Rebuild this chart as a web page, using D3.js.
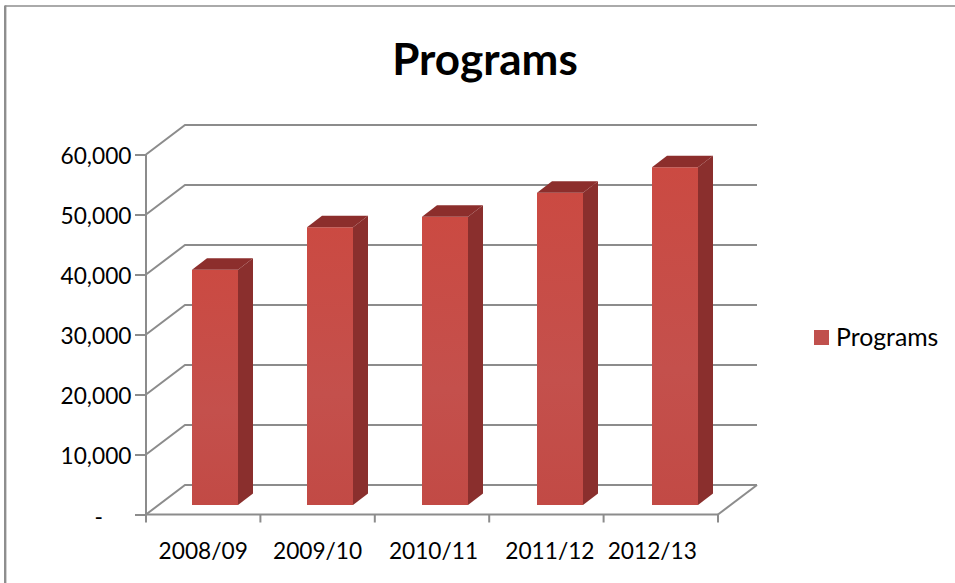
<!DOCTYPE html>
<html>
<head>
<meta charset="utf-8">
<script src="https://cdn.jsdelivr.net/npm/d3@7"></script>
<style>
html,body{margin:0;padding:0;background:#fff}
text{font-family:Lato,"Open Sans",sans-serif;fill:#000}
</style>
</head>
<body>
<svg id="c" width="955" height="583"></svg>
<script>
const categories = ["2008/09","2009/10","2010/11","2011/12","2012/13"];
const programs = [39200,46300,48050,52050,56300];
const yTicks = [0,10000,20000,30000,40000,50000,60000];
const seriesName = "Programs";
const chartTitle = "Programs";

const W=955,H=583;
const svg=d3.select("#c");
const grey="#8c8c8c";
const frontColor="#c0504d",sideColor="#8a2f2d",topColor="#8c2e2c";

const defs=svg.append("defs");
const grad=defs.append("linearGradient").attr("id","front").attr("x1",0).attr("x2",0).attr("y1",0).attr("y2",1);
grad.append("stop").attr("offset","0%").attr("stop-color","#cb4a42");
grad.append("stop").attr("offset","60%").attr("stop-color","#c4504c");
grad.append("stop").attr("offset","100%").attr("stop-color","#c24a45");

// chart frame: only top and left edges fall inside the picture
svg.append("line").attr("x1",5).attr("x2",W).attr("y1",6).attr("y2",6).attr("stroke","#8e8e8e").attr("stroke-width",1.4);
svg.append("line").attr("x1",5.2).attr("x2",5.2).attr("y1",5.5).attr("y2",H).attr("stroke","#8e8e8e").attr("stroke-width",2.4);

const x=d3.scaleBand().domain(categories).range([146,718]);
const xBars=d3.scaleBand().domain(categories).range([146,721]);
const y=d3.scaleLinear().domain([0,60000]).range([514.5,154.5]);
const backX=39,backY=-29.5;
const xEnd=718;

const grid=svg.append("g").attr("fill","none").attr("stroke",grey).attr("stroke-width",2);
yTicks.forEach(t=>{
  const py=y(t);
  grid.append("path").attr("d",d3.line()([[146,py],[146+backX,py+backY],[xEnd+backX,py+backY]]));
});
grid.append("path").attr("d",d3.line()([[xEnd,y(0)],[xEnd+backX,y(0)+backY]]));

// axes
const axY=d3.axisLeft(y).tickValues(yTicks).tickSize(11).tickPadding(3.5)
  .tickFormat(d=>d===0?"-":d3.format(",")(d));
const gy=svg.append("g").attr("transform","translate(146,0)").call(axY);
const axX=d3.axisBottom(x).tickValues([]).tickSize(0);
const gx=svg.append("g").attr("transform",`translate(0,${y(0)})`).call(axX);
const bt=[0,1,2,3,4,5].map(i=>146+i*x.step());
gx.selectAll("line.bt").data(bt).join("line").attr("class","bt")
  .attr("x1",d=>d).attr("x2",d=>d).attr("y1",0).attr("y2",8);
[gy,gx].forEach(g=>{
  g.selectAll("path,line").attr("stroke",grey).attr("stroke-width",2);
  g.select(".domain").attr("d",g===gy?`M0,${y(60000)}V${y(0)}`:`M146,0H718`);
});
gy.selectAll("text").attr("font-size",22.7).attr("fill","#000").style("font-family","Lato");
gy.selectAll(".tick text").attr("dy","0.4em");
gy.selectAll(".tick").filter(d=>d===0).select("text").attr("x",-43).attr("dy","0.42em");
const labelNudge=[0,0,1.5,3.5,-8.5];
gx.selectAll("text.lab").data(categories).join("text").attr("class","lab")
  .attr("x",(d,i)=>x(d)+x.bandwidth()/2+labelNudge[i]).attr("y",44)
  .attr("text-anchor","middle").attr("font-size",22.7).text(d=>d);

// bars
const barW=46,dx=15,dy=-11.5,barX=46,floorShift=-9.5;
const bars=svg.append("g").selectAll("g").data(categories.map((c,i)=>({c,v:programs[i]}))).join("g");
const bx=d=>xBars(d.c)+barX;
const by0=y(0)+floorShift;
const by=d=>y(d.v)+floorShift;
const poly=f=>d=>d3.line()(f(d))+"Z";
bars.append("path").attr("fill","url(#front)").attr("d",poly(d=>[[bx(d),by(d)],[bx(d)+barW,by(d)],[bx(d)+barW,by0],[bx(d),by0]]));
bars.append("path").attr("fill",sideColor).attr("d",poly(d=>[[bx(d)+barW,by(d)],[bx(d)+barW+dx,by(d)+dy],[bx(d)+barW+dx,by0+dy],[bx(d)+barW,by0]]));
bars.append("path").attr("fill",topColor).attr("d",poly(d=>[[bx(d),by(d)],[bx(d)+dx,by(d)+dy],[bx(d)+barW+dx,by(d)+dy],[bx(d)+barW,by(d)]]));

// title
svg.append("text").attr("x",485).attr("y",75).attr("text-anchor","middle")
  .attr("font-size",44).attr("font-weight",700).text(chartTitle);

// legend
svg.append("rect").attr("x",814).attr("y",330).attr("width",15).attr("height",15).attr("fill",frontColor);
svg.append("text").attr("x",836).attr("y",346).attr("font-size",24.8).text(seriesName);
</script>
</body>
</html>
